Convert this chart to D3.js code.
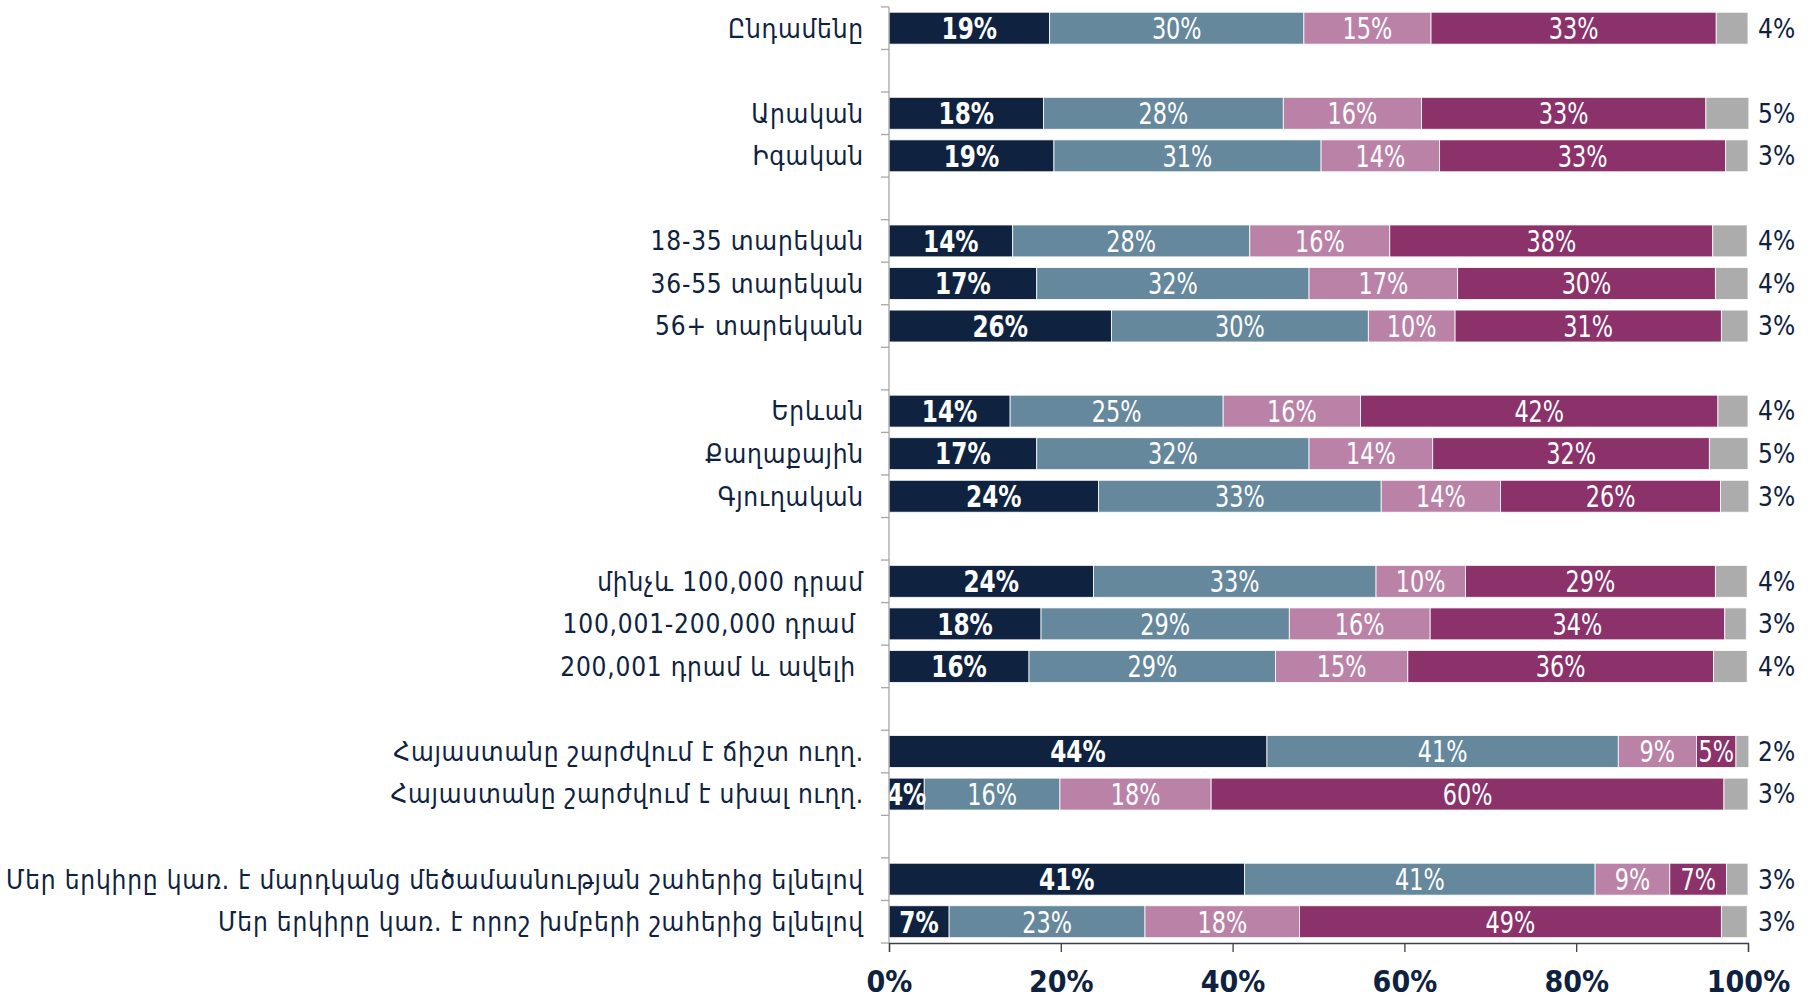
<!DOCTYPE html>
<html>
<head>
<meta charset="utf-8">
<script src="https://cdn.jsdelivr.net/npm/d3@7"></script>
<style>
  body { margin: 0; background: #fff; }
  text { white-space: pre; }
</style>
</head>
<body>
<script>
var width = 1812,
    height = 1000;

// rows (null = empty spacer row between groups)
var categories = ["Ընդամենը", null,
    "Արական", "Իգական", null,
    "18-35 տարեկան", "36-55 տարեկան", "56+ տարեկանն", null,
    "Երևան", "Քաղաքային", "Գյուղական", null,
    "մինչև 100,000 դրամ", "100,001-200,000 դրամ ", "200,001 դրամ և ավելի ", null,
    "Հայաստանը շարժվում է ճիշտ ուղղ.", "Հայաստանը շարժվում է սխալ ուղղ.", null,
    "Մեր երկիրը կառ. է մարդկանց մեծամասնության շահերից ելնելով",
    "Մեր երկիրը կառ. է որոշ խմբերի շահերից ելնելով"];

// series values, one per non-empty row
var s1 = [18.7, 18.0, 19.2, 14.4, 17.2, 25.9, 14.1, 17.2, 24.4, 23.8, 17.7, 16.3, 44.0, 4.1, 41.4, 7.0];
var s2 = [29.6, 27.9, 31.1, 27.6, 31.7, 29.9, 24.8, 31.7, 32.9, 32.9, 28.9, 28.7, 40.9, 15.8, 40.8, 22.8];
var s3 = [14.8, 16.1, 13.8, 16.3, 17.3, 10.1, 16.0, 14.4, 13.9, 10.4, 16.4, 15.4, 9.1, 17.6, 8.7, 18.0];
var s4 = [33.2, 33.1, 33.3, 37.6, 30.0, 31.0, 41.6, 32.2, 25.6, 29.1, 34.3, 35.6, 4.6, 59.7, 6.6, 49.1];
var s5 = [3.7, 5.0, 2.6, 4.0, 3.8, 3.1, 3.5, 4.5, 3.3, 3.7, 2.5, 3.9, 1.5, 2.8, 2.5, 3.0];

var seriesKeys = ["s1", "s2", "s3", "s4", "s5"];
var seriesColors = ["#0f2340", "#66889d", "#bb82a8", "#8c326b", "#acacac"];
var xTicks = [0, 20, 40, 60, 80, 100];

var navy = "#0e2240";
var font = "'DejaVu Sans Condensed', 'DejaVu Sans', sans-serif";

// build row table
var rows = [];
var k = 0;
categories.forEach(function(c, i) {
    if (c === null) return;
    rows.push({idx: i, label: c, s1: s1[k], s2: s2[k], s3: s3[k], s4: s4[k], s5: s5[k]});
    k++;
});

var svg = d3.select("body").append("svg")
    .attr("width", width)
    .attr("height", height);

var x = d3.scaleLinear().domain([0, 100]).range([889, 1748]);
var y = d3.scaleBand()
    .domain(d3.range(categories.length))
    .range([6.9, 943])
    .paddingInner(0.25)
    .paddingOuter(0.125);

var stack = d3.stack().keys(seriesKeys);
var layers = stack(rows);

svg.append("clipPath").attr("id", "plotclip")
    .append("rect")
    .attr("x", x(0)).attr("y", 0)
    .attr("width", x(100) - x(0) + 2).attr("height", height);

// bars
var g_bars = svg.append("g").attr("id", "bars");
layers.forEach(function(layer, li) {
    g_bars.append("g")
        .selectAll("rect")
        .data(layer)
        .enter().append("rect")
        .attr("x", function(d) { return x(d[0]); })
        .attr("y", function(d) { return y(d.data.idx); })
        .attr("width", function(d) { return x(d[1]) - x(d[0]); })
        .attr("height", y.bandwidth())
        .attr("fill", seriesColors[li])
        .attr("stroke", "#fff")
        .attr("stroke-width", 0.8);
});

// in-bar labels (first four series), narrowed horizontally
var g_lab = svg.append("g").attr("clip-path", "url(#plotclip)");
layers.slice(0, 4).forEach(function(layer, li) {
    var sx = li === 0 ? 0.86 : 0.83;
    g_lab.append("g")
        .selectAll("text")
        .data(layer)
        .enter().append("text")
        .attr("transform", function(d) {
            var cx = (x(d[0]) + x(d[1])) / 2,
                cy = y(d.data.idx) + y.bandwidth() / 2;
            return "translate(" + cx + "," + cy + ") scale(" + sx + ",1)";
        })
        .attr("dy", "0.36em")
        .attr("text-anchor", "middle")
        .attr("font-family", font)
        .attr("font-size", "30px")
        .attr("font-weight", li === 0 ? "bold" : "normal")
        .attr("fill", "#fff")
        .text(function(d) { return Math.round(d[1] - d[0]) + "%"; });
});

// outside labels for last series
svg.append("g")
    .selectAll("text")
    .data(rows)
    .enter().append("text")
    .attr("x", x(100) + 10)
    .attr("y", function(d) { return y(d.idx) + y.bandwidth() / 2; })
    .attr("dy", "0.36em")
    .attr("font-family", font)
    .attr("font-size", "26px")
    .attr("fill", navy)
    .text(function(d) { return Math.round(d.s5) + "%"; });

// category labels
svg.append("g")
    .selectAll("text")
    .data(rows)
    .enter().append("text")
    .attr("x", 864)
    .attr("y", function(d) { return y(d.idx) + y.bandwidth() / 2; })
    .attr("dy", "0.36em")
    .attr("text-anchor", "end")
    .attr("font-family", font)
    .attr("font-size", "26px")
    .attr("letter-spacing", "0.8px")
    .attr("fill", navy)
    .text(function(d) { return d.label; });

// y axis: line + ticks at row boundaries
var g_y = svg.append("g").attr("stroke", "#a6a6a6").attr("stroke-width", 1.3);
g_y.append("line")
    .attr("x1", x(0)).attr("x2", x(0))
    .attr("y1", y.range()[0]).attr("y2", y.range()[1]);
var bounds = d3.range(categories.length + 1).map(function(i) { return y.range()[0] + i * y.step(); });
g_y.selectAll(".tk").data(bounds).enter().append("line")
    .attr("x1", x(0) - 8).attr("x2", x(0))
    .attr("y1", function(d) { return d; }).attr("y2", function(d) { return d; });

// x axis
var xAxis = d3.axisBottom(x)
    .tickValues(xTicks)
    .tickSize(9)
    .tickPadding(19)
    .tickFormat(function(d) { return d + "%"; });
var g_x = svg.append("g")
    .attr("transform", "translate(0," + y.range()[1] + ")")
    .call(xAxis);
g_x.select(".domain").attr("stroke", "#3a3f4a").attr("stroke-width", 1.3);
g_x.selectAll(".tick line").attr("stroke", "#3a3f4a").attr("stroke-width", 1.3);
g_x.selectAll(".tick text")
    .attr("font-family", font)
    .attr("font-size", "30px")
    .attr("font-weight", "bold")
    .attr("fill", navy);
</script>
</body>
</html>
